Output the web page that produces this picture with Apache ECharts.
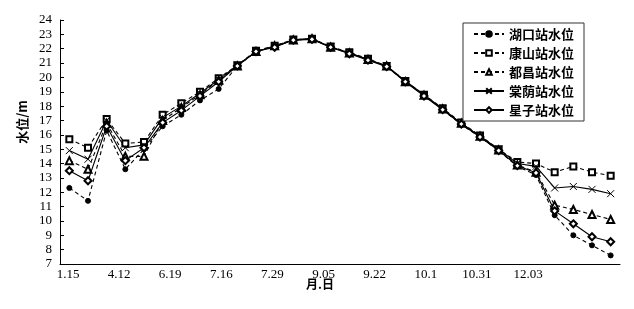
<!DOCTYPE html>
<html>
<head>
<meta charset="utf-8">
<script src="https://cdn.jsdelivr.net/npm/echarts@6/dist/echarts.min.js"></script>
<style>
html, body { margin: 0; padding: 0; background: #fff; }
#chart { width: 634px; height: 309px; }
</style>
</head>
<body>
<div id="chart"></div>
<script>
// 30 observation points along the x axis
var categories = ['1','2','3','4','5','6','7','8','9','10','11','12','13','14','15',
    '16','17','18','19','20','21','22','23','24','25','26','27','28','29','30'];
var tickLabels = ['1.15','4.12','6.19','7.16','7.29','9.05','9.22','10.1','10.31','12.03'];

var hukou = [12.3, 11.4, 16.3, 13.6, 15.0, 16.6, 17.4, 18.4, 19.2, 20.8, 21.8, 22.15, 22.6, 22.7, 22.1,
    21.7, 21.25, 20.75, 19.7, 18.75, 17.75, 16.7, 15.85, 14.9, 13.8, 13.2, 10.4, 9.0, 8.3, 7.6];
var kangshan = [15.7, 15.1, 17.1, 15.4, 15.5, 17.4, 18.2, 19.0, 19.95, 20.85, 21.85, 22.2, 22.65, 22.7, 22.15,
    21.75, 21.3, 20.8, 19.75, 18.8, 17.85, 16.85, 15.95, 15.0, 14.1, 14.0, 13.4, 13.8, 13.4, 13.15];
var duchang = [14.2, 13.6, 16.8, 14.5, 14.5, 17.0, 17.9, 18.8, 19.8, 20.8, 21.8, 22.2, 22.6, 22.7, 22.1,
    21.7, 21.25, 20.8, 19.7, 18.75, 17.8, 16.8, 15.9, 14.95, 13.9, 13.4, 11.1, 10.8, 10.45, 10.1];
var tangyin = [14.9, 14.3, 17.0, 15.1, 15.3, 17.2, 18.0, 18.9, 19.85, 20.85, 21.8, 22.15, 22.6, 22.7, 22.1,
    21.7, 21.25, 20.8, 19.75, 18.8, 17.8, 16.8, 15.9, 15.0, 14.0, 13.8, 12.3, 12.4, 12.2, 11.9];
var xingzi = [13.5, 12.8, 16.6, 14.2, 15.1, 16.85, 17.7, 18.7, 19.7, 20.8, 21.8, 22.1, 22.6, 22.65, 22.1,
    21.65, 21.2, 20.75, 19.7, 18.7, 17.75, 16.75, 15.85, 14.9, 13.85, 13.35, 10.7, 9.8, 8.9, 8.55];

var serif = 'Liberation Serif';
var cjk = 'Noto Sans CJK SC';

var dom = document.getElementById('chart');
var myChart = echarts.init(dom);

function mk(name, data, symbol, size, dashed) {
    return {
        name: name,
        type: 'line',
        data: data,
        symbol: symbol,
        symbolSize: size,
        showAllSymbol: true,
        lineStyle: { color: '#000', width: 1.1, type: dashed ? [4, 3] : 'solid' },
        itemStyle: { color: '#000', borderColor: '#000', borderWidth: 1 },
        emphasis: { disabled: true }
    };
}

var option = {
    animation: false,
    backgroundColor: '#fff',
    grid: [
        { left: 60, right: 14, top: 20, bottom: 45 },
        // only carries the date labels
        { left: 68, right: 106, top: 20, bottom: 45 }
    ],
    legend: {
        orient: 'vertical',
        left: 463,
        top: 23,
        padding: [4, 10, 4, 10],
        itemWidth: 30,
        itemHeight: 7,
        itemGap: 5,
        borderColor: '#333',
        borderWidth: 1,
        backgroundColor: '#fff',
        textStyle: { fontFamily: cjk, fontWeight: 'bold', fontSize: 13, lineHeight: 14, color: '#000' },
        data: ['湖口站水位', '康山站水位', '都昌站水位', '棠荫站水位', '星子站水位']
    },
    xAxis: [
        {
            type: 'category',
            gridIndex: 0,
            data: categories,
            boundaryGap: true,
            name: '月.日',
            nameLocation: 'middle',
            nameGap: 14,
            nameTextStyle: { fontFamily: cjk, fontWeight: 'bold', fontSize: 12, color: '#000', padding: [0, 40, 0, 0] },
            axisLine: { lineStyle: { color: '#000', width: 1 } },
            axisTick: { inside: true, length: 4, lineStyle: { color: '#000' } },
            axisLabel: { show: false },
            splitLine: { show: false }
        },
        {
            type: 'category',
            gridIndex: 1,
            data: tickLabels,
            boundaryGap: false,
            axisLine: { show: false },
            axisTick: { show: false },
            axisLabel: { fontFamily: serif, fontSize: 13, color: '#000', margin: 4, interval: 0 },
            splitLine: { show: false }
        }
    ],
    yAxis: [
        {
            type: 'value',
            gridIndex: 0,
            min: 7,
            max: 24,
            interval: 1,
            name: '水位/m',
            nameLocation: 'middle',
            nameGap: 27,
            nameTextStyle: { fontFamily: cjk, fontWeight: 'bold', fontSize: 13, color: '#000', padding: [0, 0, 0, 40] },
            axisLine: { show: true, lineStyle: { color: '#000', width: 1 } },
            axisTick: { show: true, inside: true, length: 4, lineStyle: { color: '#000' } },
            axisLabel: { fontFamily: serif, fontSize: 13, color: '#000', margin: 8 },
            splitLine: { show: false }
        },
        { type: 'value', gridIndex: 1, show: false }
    ],
    series: [
        mk('湖口站水位', hukou, 'circle', 5, true),
        mk('康山站水位', kangshan, 'emptyRect', 6, true),
        mk('都昌站水位', duchang, 'emptyTriangle', 7, true),
        mk('棠荫站水位', tangyin, 'path://M0,0L10,10M10,0L0,10', 7, false),
        mk('星子站水位', xingzi, 'emptyDiamond', 7, false)
    ]
};

myChart.setOption(option);
</script>
</body>
</html>
